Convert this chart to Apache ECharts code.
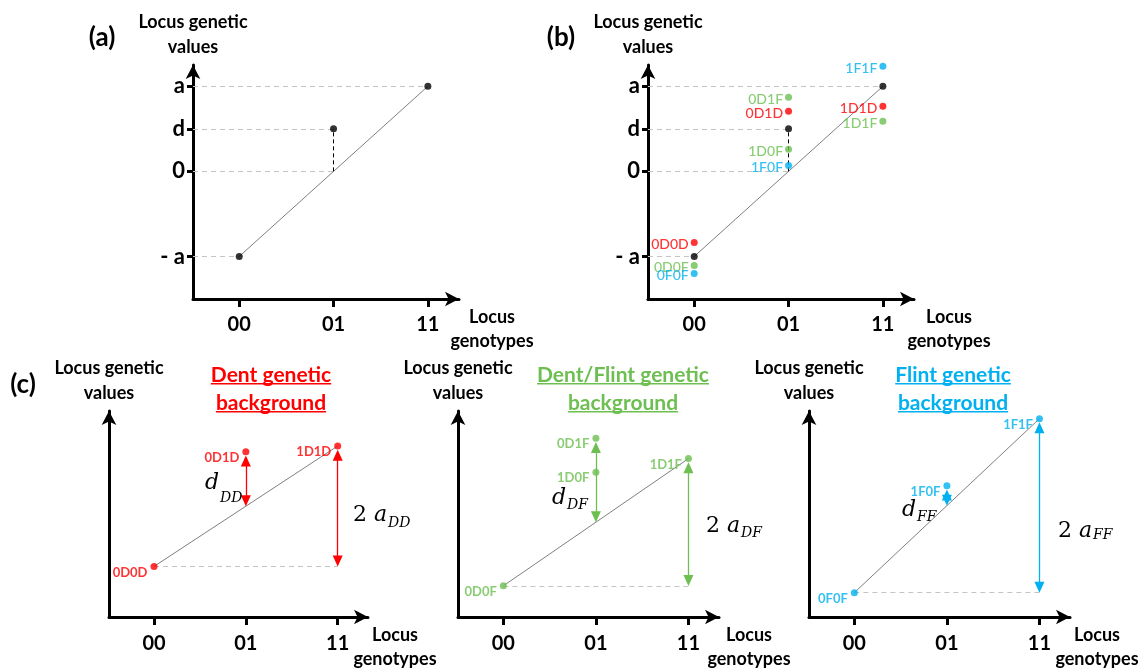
<!DOCTYPE html>
<html><head><meta charset="utf-8">
<script src="https://cdn.jsdelivr.net/npm/echarts@6/dist/echarts.min.js"></script>
<style>html,body{margin:0;padding:0;background:#fff}#c{width:1143px;height:671px}</style>
</head><body><div id="c"></div>
<script>
// ---------- data ----------
const categories = ['00', '01', '11'];
const yTickValues = [-1, 0, 0.5, 1];
const yTickLabels = ['- a', '0', 'd', 'a'];
// panel (a)
const aValues = [-1, 0.5, 1];
// panel (b)
const bBlackValues = [-1, 0.5, 1];
const bRedNames = ['0D0D', '0D1D', '1D1D'];
const bRedX = [0, 1, 2];
const bRedValues = [-0.835, 0.706, 0.765];
const bGreenNames = ['0D0F', '0D1F', '1D0F', '1D1F'];
const bGreenX = [0, 1, 1, 2];
const bGreenValues = [-1.105, 0.87, 0.26, 0.59];
const bBlueNames = ['0F0F', '1F0F', '1F1F'];
const bBlueX = [0, 1, 2];
const bBlueValues = [-1.2, 0.07, 1.235];
// panel (c)
const cDentNames = ['0D0D', '0D1D', '1D1D'];
const cDentX = [0, 1, 2];
const cDentValues = [-0.825, 0.706, 0.783];
const cDFNames = ['0D0F', '0D1F', '1D0F', '1D1F'];
const cDFX = [0, 1, 1, 2];
const cDFValues = [-1.084, 0.887, 0.433, 0.615];
const cFFNames = ['0F0F', '1F0F', '1F1F'];
const cFFX = [0, 1, 2];
const cFFValues = [-1.175, 0.252, 1.148];

// ---------- styles ----------
const FONT = 'Lato';
const RED = '#ff0000', GREEN = '#6cbf50', BLUE = '#00b0f0';
const GRAYLINE = '#7f7f7f', GUIDE = '#c4c4c4';
const XMIN = -0.49, XMAX = 2.33, YMIN = -1.5, YMAX = 1.25;

const grids = [
  { left: 193, top: 65, width: 266, height: 234 },
  { left: 648, top: 65, width: 266, height: 234 },
  { left: 109, top: 411, width: 259, height: 212 },
  { left: 458, top: 411, width: 261, height: 212 },
  { left: 809, top: 411, width: 261, height: 212 }
];
const xNameGaps = [33, 35, 27, 30, 27];

const axisLine = {
  show: true, onZero: false, symbol: ['none', 'arrow'], symbolSize: [11, 14],
  lineStyle: { color: '#000', width: 3 }
};

function xAxisFor(i) {
  return {
    gridIndex: i, type: 'value', min: XMIN, max: XMAX,
    name: 'Locus\ngenotypes', nameLocation: 'end', nameGap: xNameGaps[i],
    nameTextStyle: { fontFamily: FONT, fontWeight: 'bold', fontSize: 18, lineHeight: 24,
      color: '#000', align: 'center', verticalAlign: 'top', padding: [6, 0, 0, 0] },
    axisLine: axisLine,
    axisTick: { show: true, customValues: [0, 1, 2], length: 8, lineStyle: { color: '#000', width: 3 } },
    axisLabel: { show: true, customValues: [0, 1, 2], formatter: v => categories[Math.round(v)],
      fontFamily: FONT, fontWeight: 'bold', fontSize: 20, color: '#000', margin: i < 2 ? 16 : 17 },
    splitLine: { show: false }
  };
}
function yAxisFor(i, ticks) {
  return {
    gridIndex: i, type: 'value', min: YMIN, max: YMAX,
    name: 'Locus genetic\nvalues', nameLocation: 'end', nameGap: 5,
    nameTextStyle: { fontFamily: FONT, fontWeight: 'bold', fontSize: 18, lineHeight: 25,
      color: '#000', align: 'center', verticalAlign: 'bottom' },
    axisLine: axisLine,
    axisTick: { show: ticks, customValues: yTickValues, length: 6, lineStyle: { color: '#000', width: 3 } },
    axisLabel: { show: ticks, customValues: yTickValues,
      formatter: v => yTickLabels[yTickValues.indexOf(v)],
      fontFamily: FONT, fontWeight: 'bold', fontSize: 22, color: '#000', margin: 8,
      padding: [5, 0, 0, 0] },
    splitLine: { show: false }
  };
}

const series = [];
const guideStyle = { color: GUIDE, type: [5, 4], width: 1 };

// panels (a) and (b): black points, regression line, guides
function topPanel(i, vals) {
  const mid = (vals[0] + vals[2]) / 2;
  const guides = vals.map((v, k) => [{ coord: [XMIN, v] }, { coord: [k, v] }]);
  guides.push([{ coord: [XMIN, mid] }, { coord: [1, mid] }]);
  series.push({
    type: 'line', xAxisIndex: i, yAxisIndex: i, symbol: 'none', silent: true,
    data: [[0, vals[0]], [2, vals[2]]], lineStyle: { color: GRAYLINE, width: 1 },
    markLine: { silent: true, symbol: 'none', label: { show: false }, lineStyle: guideStyle, data: guides }
  });
  series.push({
    type: 'scatter', xAxisIndex: i, yAxisIndex: i, symbolSize: 7, silent: true, z: 5,
    itemStyle: { color: '#000' }, data: vals.map((v, k) => [k, v]),
    markLine: { silent: true, symbol: 'none', label: { show: false },
      lineStyle: { color: '#000', type: [4, 3], width: 1 },
      data: [[{ coord: [1, mid] }, { coord: [1, vals[1]] }]] }
  });
}
topPanel(0, aValues);
topPanel(1, bBlackValues);

function labelled(i, names, xs, vals, color, lab, extra) {
  const s = {
    type: 'scatter', xAxisIndex: i, yAxisIndex: i, symbolSize: 7, silent: true, z: 6,
    itemStyle: { color: color },
    data: names.map((n, k) => ({ name: n, value: [xs[k], vals[k]] })),
    label: Object.assign({ show: true, position: 'left', formatter: p => p.name, color: color, fontFamily: FONT }, lab)
  };
  Object.assign(s, extra || {});
  series.push(s);
}
const bLab = { fontSize: 14, fontWeight: 500, distance: 2, offset: [0, 2] };
labelled(1, bRedNames, bRedX, bRedValues, RED, bLab);
labelled(1, bGreenNames, bGreenX, bGreenValues, GREEN, bLab);
labelled(1, bBlueNames, bBlueX, bBlueValues, BLUE, bLab);

// panel (c)
const pxUnitC = 212 / (YMAX - YMIN);
function bottomPanel(i, names, xs, vals, color) {
  const at = x => vals.filter((v, k) => xs[k] === x);
  const v0 = at(0)[0], v2 = at(2)[0], v1top = Math.max(...at(1));
  const mid = (v0 + v2) / 2;
  series.push({
    type: 'line', xAxisIndex: i, yAxisIndex: i, symbol: 'none', silent: true,
    data: [[0, v0], [2, v2]], lineStyle: { color: GRAYLINE, width: 1 },
    markLine: { silent: true, symbol: 'none', label: { show: false }, lineStyle: guideStyle,
      data: [[{ coord: [0, v0] }, { coord: [2, v0] }]] }
  });
  const gap = 4 / pxUnitC, half = 5.5 / pxUnitC;
  labelled(i, names, xs, vals, color, { fontSize: 13, fontWeight: 'bold', distance: 3, offset: [0, 6] }, {
    markLine: { silent: true, symbol: ['triangle', 'triangle'], symbolSize: [10, 11],
      label: { show: false }, lineStyle: { color: color, width: 1.3, type: 'solid' },
      data: [
        [{ coord: [1, v1top - gap - half] }, { coord: [1, mid + half] }],
        [{ coord: [2, v2 - gap - half] }, { coord: [2, v0 + half] }]
      ] }
  });
}
bottomPanel(2, cDentNames, cDentX, cDentValues, RED);
bottomPanel(3, cDFNames, cDFX, cDFValues, GREEN);
bottomPanel(4, cFFNames, cFFX, cFFValues, BLUE);

// ---------- text decorations ----------
const mctx = document.createElement('canvas').getContext('2d');
function measure(t, font) { mctx.font = font; return mctx.measureText(t).width; }
const graphics = [];
function txt(t, x, y, font, color, align) {
  graphics.push({ type: 'text', x: x, y: y, silent: true, z: 100,
    style: { text: t, font: font, fill: color, textAlign: align || 'center', align: align || 'center',
      textVerticalAlign: 'middle', verticalAlign: 'middle' } });
}
txt('(a)', 102, 38, 'bold 26px Lato', '#000');
txt('(b)', 561, 38, 'bold 26px Lato', '#000');
txt('(c)', 23, 385, 'bold 26px Lato', '#000');

function title(lines, cx, color) {
  const f = 'bold 21px Lato';
  lines.forEach((t, k) => {
    const y = 375 + k * 28;
    txt(t, cx, y, f, color);
    const w = measure(t, f);
    graphics.push({ type: 'rect', silent: true, shape: { x: cx - w / 2, y: y + 8, width: w, height: 1.6 },
      style: { fill: color } });
  });
}
title(['Dent genetic', 'background'], 271, RED);
title(['Dent/Flint genetic', 'background'], 623, GREEN);
title(['Flint genetic', 'background'], 953, BLUE);

const MF = '"DejaVu Serif"';
function mathD(x, base, sub, subBase) {
  const f = 'italic 22px ' + MF;
  txt('d', x, base - 7, f, '#000', 'left');
  const w = measure('d', f);
  txt(sub, x + w + 1, subBase - 5, 'italic 14px ' + MF, '#000', 'left');
}
function math2a(x, base, sub, subBase) {
  const f = '22px ' + MF, fi = 'italic 22px ' + MF;
  txt('2', x, base - 7, f, '#000', 'left');
  const w2 = measure('2 ', f);
  txt('a', x + w2, base - 7, fi, '#000', 'left');
  const wa = measure('a', fi);
  txt(sub, x + w2 + wa + 1, subBase - 5, 'italic 14px ' + MF, '#000', 'left');
}
mathD(205, 490, 'DD', 503);
math2a(353, 522, 'DD', 528);
mathD(552, 505, 'DF', 510);
math2a(706, 533, 'DF', 538);
mathD(902, 517, 'FF', 522);
math2a(1058, 538, 'FF', 540);

const chart = echarts.init(document.getElementById('c'), null, { renderer: 'canvas' });
chart.setOption({
  backgroundColor: '#fff',
  animation: false,
  grid: grids,
  xAxis: grids.map((g, i) => xAxisFor(i)),
  yAxis: grids.map((g, i) => yAxisFor(i, i < 2)),
  series: series,
  graphic: graphics
});
</script></body></html>
